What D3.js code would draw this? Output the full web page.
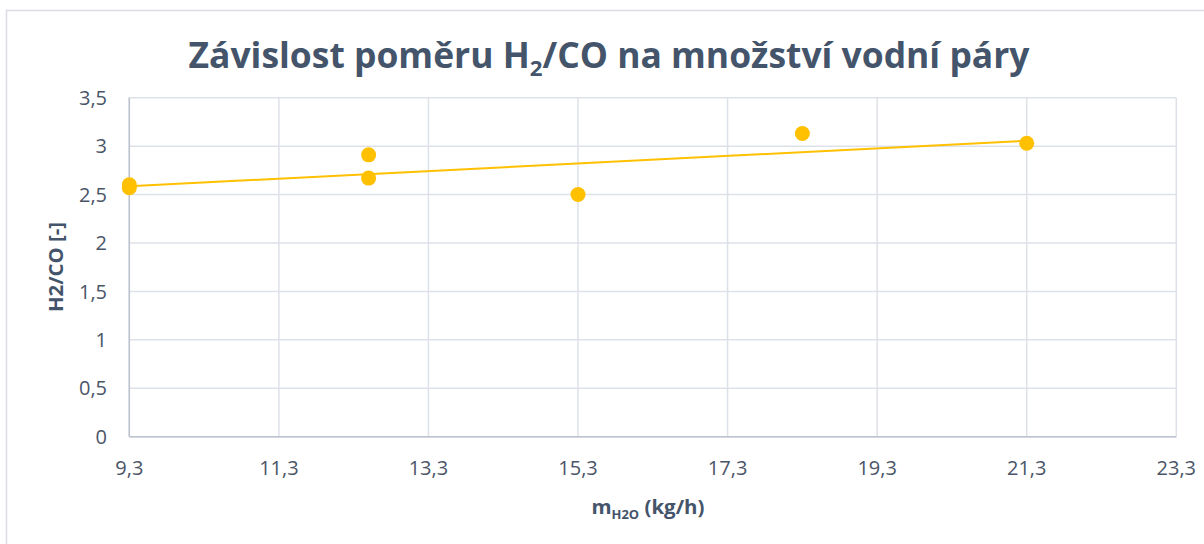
<!DOCTYPE html>
<html>
<head>
<meta charset="utf-8">
<script src="https://cdn.jsdelivr.net/npm/d3@7"></script>
<style>
	html, body { margin: 0; padding: 0; background: #fff; }
	svg { display: block; font-family: "Open Sans", sans-serif; }
</style>
</head>
<body>
<div id="chart"></div>
<script>
// measured points (x = steam flow kg/h, y = H2/CO ratio)
var steamFlow = [9.3, 9.3, 12.5, 12.5, 15.3, 18.3, 21.3];
var h2coRatio = [2.60, 2.57, 2.91, 2.67, 2.50, 3.13, 3.03];
var xTicks = [9.3, 11.3, 13.3, 15.3, 17.3, 19.3, 21.3, 23.3];
var yTicks = [0, 0.5, 1, 1.5, 2, 2.5, 3, 3.5];

var W = 1204, H = 544;
var margin = { top: 97.7, right: 1204 - 1176.3, bottom: 544 - 436.7, left: 129.3 };
var textColor = "#44546A";
var tickColor = "#4a5568";
var gold = "#FFC000";

var svg = d3.select("#chart").append("svg")
	.attr("width", W)
	.attr("height", H);

// chart area frame (runs off the picture on right/bottom)
svg.append("rect")
	.attr("x", 6.5).attr("y", 10.5)
	.attr("width", 1400).attr("height", 700)
	.attr("fill", "#fff")
	.attr("stroke", "#d9dce2")
	.attr("stroke-width", 1.5);

var x = d3.scaleLinear().domain([9.3, 23.3]).range([margin.left, W - margin.right]);
var y = d3.scaleLinear().domain([0, 3.5]).range([H - margin.bottom, margin.top]);

var fmt = function(v) { return d3.format("~g")(+v.toFixed(1)).replace(".", ","); };

// gridlines
svg.append("g").selectAll("line.gy").data(yTicks).join("line")
	.attr("x1", x.range()[0]).attr("x2", x.range()[1])
	.attr("y1", d => y(d)).attr("y2", d => y(d))
	.attr("stroke", "#dde1e8").attr("stroke-width", 1.5);

svg.append("g").selectAll("line.gx").data(xTicks).join("line")
	.attr("x1", d => x(d)).attr("x2", d => x(d))
	.attr("y1", y.range()[0]).attr("y2", y.range()[1])
	.attr("stroke", "#dde1e8").attr("stroke-width", 1.5);

// axis lines
svg.append("line")
	.attr("x1", x.range()[0]).attr("x2", x.range()[1])
	.attr("y1", y(0)).attr("y2", y(0))
	.attr("stroke", "#bcc3cf").attr("stroke-width", 1.5);
svg.append("line")
	.attr("x1", x(9.3)).attr("x2", x(9.3))
	.attr("y1", y.range()[0]).attr("y2", y.range()[1])
	.attr("stroke", "#bcc3cf").attr("stroke-width", 1.5);

// tick labels
svg.append("g").selectAll("text").data(yTicks).join("text")
	.attr("x", 107).attr("y", d => y(d))
	.attr("dy", "0.36em")
	.attr("text-anchor", "end")
	.attr("font-size", 20)
	.attr("fill", tickColor)
	.text(fmt);

svg.append("g").selectAll("text").data(xTicks).join("text")
	.attr("x", d => x(d)).attr("y", 475)
	.attr("text-anchor", "middle")
	.attr("font-size", 20)
	.attr("fill", tickColor)
	.text(fmt);

// linear trendline over the data range
var mx = d3.mean(steamFlow), my = d3.mean(h2coRatio);
var sxy = d3.sum(steamFlow, (v, i) => (v - mx) * (h2coRatio[i] - my));
var sxx = d3.sum(steamFlow, v => (v - mx) * (v - mx));
var slope = sxy / sxx, icpt = my - slope * mx;
var ext = d3.extent(steamFlow);

svg.append("line")
	.attr("x1", x(ext[0])).attr("y1", y(icpt + slope * ext[0]))
	.attr("x2", x(ext[1])).attr("y2", y(icpt + slope * ext[1]))
	.attr("stroke", gold).attr("stroke-width", 2);

// points
svg.append("g").selectAll("circle").data(steamFlow).join("circle")
	.attr("cx", d => x(d))
	.attr("cy", (d, i) => y(h2coRatio[i]))
	.attr("r", 7.5)
	.attr("fill", gold);

// title
var title = svg.append("text")
	.attr("x", 609).attr("y", 68)
	.attr("text-anchor", "middle")
	.attr("font-size", 35)
	.attr("font-weight", "bold")
	.attr("fill", textColor)
	.attr("textLength", 841)
	.attr("lengthAdjust", "spacingAndGlyphs");
title.append("tspan").text("Závislost poměru H");
title.append("tspan").attr("font-size", 22).attr("dy", 8).text("2");
title.append("tspan").attr("dy", -8).text("/CO na množství vodní páry");

// y axis title
svg.append("text")
	.attr("transform", "translate(63,267) rotate(-90)")
	.attr("text-anchor", "middle")
	.attr("font-size", 19)
	.attr("font-weight", "bold")
	.attr("fill", textColor)
	.attr("textLength", 90)
	.attr("lengthAdjust", "spacingAndGlyphs")
	.text("H2/CO [-]");

// x axis title
var xt = svg.append("text")
	.attr("x", 648).attr("y", 514)
	.attr("text-anchor", "middle")
	.attr("font-size", 19)
	.attr("font-weight", "bold")
	.attr("fill", textColor)
	.attr("textLength", 113)
	.attr("lengthAdjust", "spacingAndGlyphs");
xt.append("tspan").text("m");
xt.append("tspan").attr("font-size", 12).attr("dy", 5).text("H2O");
xt.append("tspan").attr("dy", -5).text(" (kg/h)");
</script>
</body>
</html>
